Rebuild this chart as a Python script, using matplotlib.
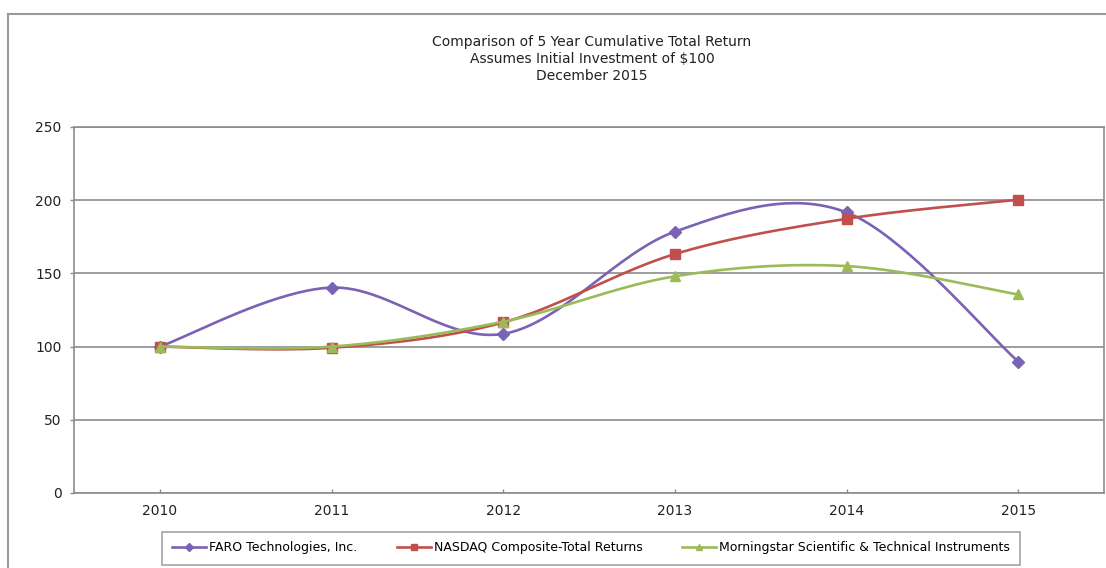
import numpy as np
import matplotlib.pyplot as plt
from matplotlib.lines import Line2D

plt.rcParams['font.family'] = ['DejaVu Sans']

years = ['2010', '2011', '2012', '2013', '2014', '2015']
faro = [100, 140.3, 108.7, 178.5, 191.7, 89.8]
nasdaq = [100, 99.2, 116.5, 163.2, 187.3, 200.3]
morningstar = [100, 100.0, 117.0, 148.0, 155.0, 135.6]

series_names = ['FARO Technologies, Inc.', 'NASDAQ Composite-Total Returns',
                'Morningstar Scientific & Technical Instruments']
colors = ['#7A62B4', '#C0504D', '#9BBB59']
markers = ['D', 's', '^']
msizes = [6.5, 7, 7.5]


def smooth(xs, ys, n=40):
    # Excel-style smoothed line: Catmull-Rom bezier through the points
    p = np.column_stack([xs, ys]).astype(float)
    p = np.vstack([p[0], p, p[-1]])
    out = []
    for i in range(1, len(p) - 2):
        p0, p1, p2, p3 = p[i - 1], p[i], p[i + 1], p[i + 2]
        c1 = p1 + (p2 - p0) / 6
        c2 = p2 - (p3 - p1) / 6
        t = np.linspace(0, 1, n)[:, None]
        seg = ((1 - t) ** 3) * p1 + 3 * ((1 - t) ** 2) * t * c1 + 3 * (1 - t) * t ** 2 * c2 + t ** 3 * p2
        out.append(seg if i == 1 else seg[1:])
    out = np.vstack(out)
    return out[:, 0], out[:, 1]


fig = plt.figure(figsize=(11.06, 5.68), dpi=100)
ax = fig.add_axes([74 / 1106, 75 / 568, 1030 / 1106, 366 / 568])

x = np.arange(len(years))
for vals, c, m, ms in zip([faro, nasdaq, morningstar], colors, markers, msizes):
    sx, sy = smooth(x, vals)
    ax.plot(sx, sy, color=c, lw=1.9, solid_capstyle='round')
    ax.plot(x, vals, ls='none', marker=m, ms=ms, color=c, mec=c)

ax.set_xlim(-0.5, 5.5)
ax.set_ylim(0, 250)
ax.set_yticks(range(0, 251, 50))
ax.set_xticks(x)
ax.set_xticklabels(years)
ax.yaxis.grid(True, color='#8C8C8C', lw=1.2)
ax.set_axisbelow(True)
for s in ax.spines.values():
    s.set_color('#8C8C8C')
    s.set_linewidth(1.2)
ax.tick_params(axis='y', direction='out', length=3, width=1, color='#8C8C8C',
               labelsize=10, pad=6, labelcolor='#222222')
ax.tick_params(axis='x', direction='in', length=3, width=1, color='#8C8C8C',
               labelsize=10, pad=8, labelcolor='#222222')

fig.text(592 / 1106, 1 - 35 / 568,
         'Comparison of 5 Year Cumulative Total Return\nAssumes Initial Investment of $100\nDecember 2015',
         ha='center', va='top', fontsize=10, linespacing=1.27, color='#222222')

handles = [Line2D([0], [0], color=c, lw=1.9, marker=m, ms=4) for c, m in zip(colors, markers)]
leg = fig.legend(handles, series_names, loc='center',
                 bbox_to_anchor=(162 / 1106, 1 - 565 / 568, 858 / 1106, 34 / 568),
                 mode='expand', ncol=3, fontsize=9, frameon=True, fancybox=False,
                 handlelength=2.7, handletextpad=0.25, columnspacing=1.7, borderpad=0.8,
                 borderaxespad=0)
leg.get_frame().set_edgecolor('#8C8C8C')
leg.get_frame().set_linewidth(1.2)

# outer chart border (left and top edges visible)
fig.add_artist(Line2D([8 / 1106, 8 / 1106], [0, 1 - 14 / 568], transform=fig.transFigure,
                      color='#999999', lw=1.5))
fig.add_artist(Line2D([8 / 1106, 1], [1 - 14 / 568, 1 - 14 / 568], transform=fig.transFigure,
                      color='#999999', lw=1.5))

fig.savefig('out.png', dpi=100)
